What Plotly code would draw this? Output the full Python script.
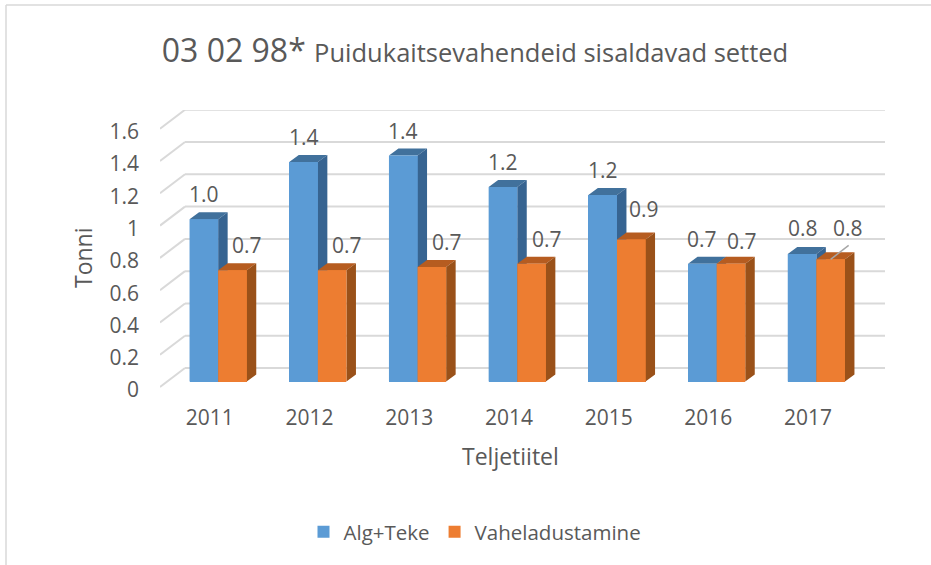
import plotly.graph_objects as go

# ---- data ----
years = [2011, 2012, 2013, 2014, 2015, 2016, 2017]
alg_teke = [1.005, 1.36, 1.40, 1.205, 1.155, 0.73, 0.79]
vaheladustamine = [0.69, 0.69, 0.71, 0.73, 0.88, 0.73, 0.757]
y_ticks = [0, 0.2, 0.4, 0.6, 0.8, 1, 1.2, 1.4, 1.6]
y_tick_labels = ["0", "0.2", "0.4", "0.6", "0.8", "1", "1.2", "1.4", "1.6"]

# ---- label nudges, pixels ----
alg_shift = [(0, 25), (0, 25), (0, 25), (0, 25), (0, 25), (0, 25), (1, 26)]
vah_shift = [(15, 25), (15, 25), (15, 25), (15, 25), (13, 30), (11, 23), (17, 31)]

# ---- geometry ----
W, H = 931, 565
L, R, T, B = 160, 885, 110, 392
UX, UY = 99.7, 161.4               # pixels per category / per unit
X0 = 2010.5
Y_MIN = -5 / UY                    # room under the floor line for the "0" label
Y_MAX = (B - T) / UY + Y_MIN
X_MAX = X0 + (R - L) / UX
WALL_DX, WALL_DY = 25 / UX, 19 / UY
BAR_DX, BAR_DY = 9.5 / UX, 7 / UY
BAR_W = 28.6 / UX
BAR_START = -20.3 / UX
BAR_BASE = 5.5 / UY
TICK_DROP = 3 / UY                 # y tick labels sit a little under the wall lines

C_BLUE, C_BLUE_TOP, C_BLUE_SIDE = "#5B9BD5", "#41719C", "#376491"
C_OR, C_OR_TOP, C_OR_SIDE = "#ED7D31", "#B65C20", "#9A5119"
C_TEXT, C_GRID = "#595959", "#D9D9D9"


def polys(faces):
    xs, ys = [], []
    for f in faces:
        xs += [p[0] for p in f] + [f[0][0], None]
        ys += [p[1] for p in f] + [f[0][1], None]
    return xs, ys


def faces(values, slot):
    front, top, side = [], [], []
    for yr, v in zip(years, values):
        x0 = yr + BAR_START + slot * BAR_W
        x1 = x0 + BAR_W
        y0, y1 = BAR_BASE, BAR_BASE + v
        front.append([(x0, y0), (x1, y0), (x1, y1), (x0, y1)])
        top.append([(x0, y1), (x1, y1), (x1 + BAR_DX, y1 + BAR_DY), (x0 + BAR_DX, y1 + BAR_DY)])
        side.append([(x1, y0), (x1 + BAR_DX, y0 + BAR_DY), (x1 + BAR_DX, y1 + BAR_DY), (x1, y1)])
    return front, top, side


fig = go.Figure()

# real bars carry the values and the legend
for name, vals, slot, col in [("Alg+Teke", alg_teke, 0, C_BLUE),
                              ("Vaheladustamine", vaheladustamine, 1, C_OR)]:
    fig.add_bar(x=[y + BAR_START + (slot + 0.5) * BAR_W for y in years], y=vals, base=BAR_BASE,
                width=BAR_W, name=name, marker=dict(color=col, line=dict(width=0)),
                hoverinfo="skip")

# depth faces, painted back to front over the bars
for vals, slot, cols in [(alg_teke, 0, (C_BLUE, C_BLUE_TOP, C_BLUE_SIDE)),
                         (vaheladustamine, 1, (C_OR, C_OR_TOP, C_OR_SIDE))]:
    fr, to, si = faces(vals, slot)
    for fs, col in [(to, cols[1]), (si, cols[2]), (fr, cols[0])]:
        xs, ys = polys(fs)
        fig.add_scatter(x=xs, y=ys, mode="lines", fill="toself", fillcolor=col,
                        line=dict(width=0, color=col), showlegend=False, hoverinfo="skip")

# leader line of the 2017 orange label
lx = years[6] + BAR_START + 1.5 * BAR_W
ly = BAR_BASE + vaheladustamine[6]
fig.add_scatter(x=[lx, lx + 18 / UX], y=[ly, ly + 14 / UY], mode="lines",
                line=dict(color="#A6A6A6", width=1.5), showlegend=False, hoverinfo="skip")

# back wall gridlines and side-wall diagonals
shapes = []
for t in y_ticks:
    shapes.append(dict(type="line", layer="below", xref="x", yref="y",
                       x0=X0 + WALL_DX, x1=X_MAX, y0=t + WALL_DY, y1=t + WALL_DY,
                       line=dict(color=C_GRID, width=2)))
    shapes.append(dict(type="line", layer="below", xref="x", yref="y",
                       x0=X0, x1=X0 + WALL_DX, y0=t, y1=t + WALL_DY,
                       line=dict(color=C_GRID, width=2)))
# frame of the chart object
shapes.append(dict(type="line", xref="paper", yref="paper",
                   x0=(6 - L) / (R - L), x1=(6 - L) / (R - L),
                   y0=(B - H) / (B - T), y1=(B - 5) / (B - T),
                   line=dict(color=C_GRID, width=1.5)))
shapes.append(dict(type="line", xref="paper", yref="paper",
                   x0=(6 - L) / (R - L), x1=(W - L) / (R - L),
                   y0=(B - 5) / (B - T), y1=(B - 5) / (B - T),
                   line=dict(color=C_GRID, width=1.5)))

# data labels
ann = []
for vals, slot, shifts in [(alg_teke, 0, alg_shift), (vaheladustamine, 1, vah_shift)]:
    for yr, v, (sx, sy) in zip(years, vals, shifts):
        ann.append(dict(x=yr + BAR_START + (slot + 0.5) * BAR_W, y=BAR_BASE + v,
                        xref="x", yref="y", text=f"{v:.1f}", showarrow=False,
                        xshift=sx, yshift=sy, font=dict(size=21, color=C_TEXT)))

# axis titles
ann.append(dict(xref="paper", yref="paper", x=(510 - L) / (R - L), y=(B - 456) / (B - T),
                xanchor="center", yanchor="middle",
                text="Teljetiitel", showarrow=False, font=dict(size=23, color=C_TEXT)))
ann.append(dict(xref="paper", yref="paper", x=(83 - L) / (R - L), y=(B - 258) / (B - T),
                xanchor="center", yanchor="middle",
                text="Tonni", textangle=-90, showarrow=False, font=dict(size=23, color=C_TEXT)))

fig.update_layout(
    width=W, height=H, autosize=False,
    margin=dict(l=L, r=W - R, t=T, b=H - B, pad=0),
    paper_bgcolor="white", plot_bgcolor="white",
    font=dict(family="Open Sans", color=C_TEXT, size=21),
    barmode="overlay", bargap=0,
    title=dict(text='03 02 98* <span style="font-size:25.5px">Puidukaitsevahendeid sisaldavad setted</span>',
               x=475 / W, xanchor="center", y=1 - 51 / H, yanchor="middle",
               font=dict(size=32, color=C_TEXT)),
    xaxis=dict(range=[X0, X_MAX], tickmode="array", tickvals=years, ticktext=[str(y) for y in years],
               showgrid=False, zeroline=False, showline=False, ticks="",
               ticklabelstandoff=11, tickfont=dict(size=21, color=C_TEXT)),
    yaxis=dict(range=[Y_MIN, Y_MAX], tickmode="array", tickvals=[t - TICK_DROP for t in y_ticks],
               ticktext=y_tick_labels,
               showgrid=False, zeroline=False, showline=False, ticks="",
               ticklabelstandoff=20, tickfont=dict(size=21, color=C_TEXT)),
    legend=dict(orientation="h", x=475 / W, xanchor="center", xref="container",
                y=1 - 532 / H, yanchor="middle", yref="container",
                font=dict(size=20.5, color=C_TEXT), bgcolor="rgba(0,0,0,0)"),
    shapes=shapes, annotations=ann, showlegend=True,
)

fig.write_html("out.html", post_script="document.body.style.margin='0';",
               config=dict(displayModeBar=False))
